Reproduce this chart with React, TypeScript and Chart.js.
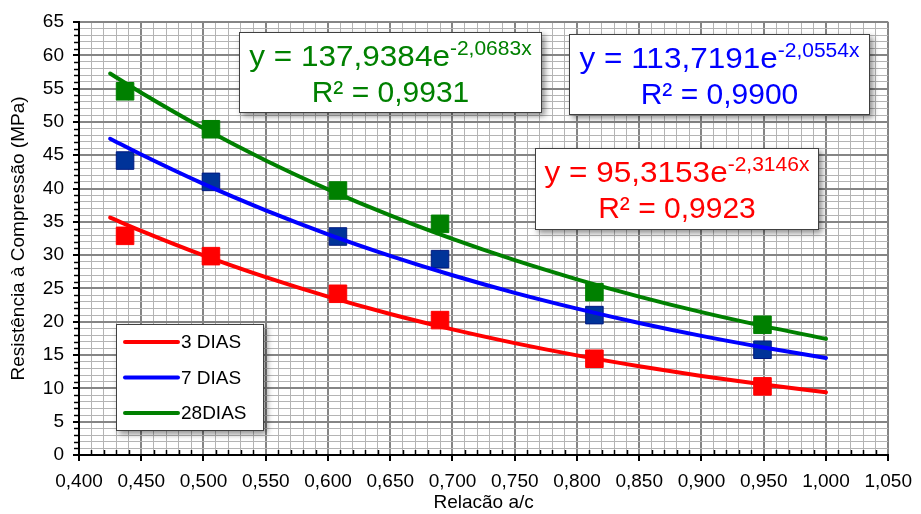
import React, { useEffect, useRef } from 'react';
import { Chart, registerables } from 'chart.js';

Chart.register(...registerables);

const FONT = '"Liberation Sans", Arial, sans-serif';

// ---- data ----
const seriesLabels = ['3 DIAS', '7 DIAS', '28DIAS'];

const ratioX = [0.437, 0.506, 0.608, 0.69, 0.814, 0.949];
const strength3 = [32.9, 29.85, 24.2, 20.25, 14.45, 10.3];
const strength7 = [44.2, 41.0, 32.8, 29.4, 21.0, 15.8];
const strength28 = [54.6, 48.9, 39.7, 34.7, 24.45, 19.55];

const trendX = [0.425, 0.45, 0.5, 0.55, 0.6, 0.65, 0.7, 0.75, 0.8, 0.85, 0.9, 0.95, 1.0];
const trend3 = [35.64, 33.64, 29.96, 26.69, 23.77, 21.17, 18.86, 16.8, 14.96, 13.33, 11.87, 10.58, 9.42];
const trend7 = [47.47, 45.1, 40.69, 36.72, 33.13, 29.9, 26.98, 24.34, 21.97, 19.82, 17.88, 16.14, 14.56];
const trend28 = [57.27, 54.39, 49.04, 44.22, 39.88, 35.96, 32.43, 29.24, 26.37, 23.78, 21.44, 19.34, 17.44];

const xTickLabels = ['0,400', '0,450', '0,500', '0,550', '0,600', '0,650', '0,700', '0,750', '0,800', '0,850', '0,900', '0,950', '1,000', '1,050'];
const yTickLabels = ['0', '5', '10', '15', '20', '25', '30', '35', '40', '45', '50', '55', '60', '65'];

const eqCoef = ['95,3153', '113,7191', '137,9384'];
const eqExp = ['-2,3146x', '-2,0554x', '-2,0683x'];
const eqR2 = ['R² = 0,9923', 'R² = 0,9900', 'R² = 0,9931'];

const xTitle = 'Relacão a/c';
const yTitle = 'Resistência à Compressão (MPa)';

// ---- styles ----
const lineColors = ['#FF0000', '#0000FF', '#008000'];
const markerFill = ['#FF0000', '#003399', '#008000'];
const markerBorder = ['#FF0000', '#001a80', '#008000'];
const eqBoxes = [
  { x: 535, y: 148, w: 284, h: 82 },
  { x: 569, y: 34, w: 301, h: 81 },
  { x: 239, y: 32, w: 303, h: 81 },
];
const legendBox = { x: 116, y: 324, w: 148, h: 107 };
const MAJOR_GRID = '#858585';
const MINOR_GRID = '#b4b4b4';

const isMajorX = (v: number) => Math.round(v * 100) % 5 === 0;
const isMajorY = (v: number) => Math.round(v) % 5 === 0;

function drawBox(ctx: CanvasRenderingContext2D, b: { x: number; y: number; w: number; h: number }) {
  ctx.save();
  ctx.shadowColor = 'rgba(0,0,0,0.45)';
  ctx.shadowBlur = 6;
  ctx.shadowOffsetX = 3;
  ctx.shadowOffsetY = 3;
  ctx.fillStyle = '#ffffff';
  ctx.fillRect(b.x, b.y, b.w, b.h);
  ctx.restore();
  ctx.save();
  ctx.strokeStyle = '#404040';
  ctx.lineWidth = 1;
  ctx.strokeRect(b.x + 0.5, b.y + 0.5, b.w - 1, b.h - 1);
  ctx.restore();
}

const overlayPlugin = {
  id: 'overlay',
  afterDatasetsDraw(chart: any) {
    const ctx: CanvasRenderingContext2D = chart.ctx;
    const xs = chart.scales.x;
    const ys = chart.scales.y;
    const area = chart.chartArea;
    // minor tick marks
    ctx.save();
    ctx.strokeStyle = '#000';
    ctx.lineWidth = 1.5;
    xs.ticks.forEach((t: any) => {
      if (isMajorX(t.value)) return;
      const px = Math.round(xs.getPixelForValue(t.value)) + 0.5;
      ctx.beginPath();
      ctx.moveTo(px, area.bottom - 5);
      ctx.lineTo(px, area.bottom);
      ctx.stroke();
    });
    ys.ticks.forEach((t: any) => {
      if (isMajorY(t.value)) return;
      const py = Math.round(ys.getPixelForValue(t.value)) + 0.5;
      ctx.beginPath();
      ctx.moveTo(area.left - 5, py);
      ctx.lineTo(area.left, py);
      ctx.stroke();
    });
    ctx.restore();

    // equation boxes
    eqBoxes.forEach((b, i) => {
      drawBox(ctx, b);
      const cx = b.x + b.w / 2;
      const color = lineColors[i];
      const main = `y = ${eqCoef[i]}e`;
      ctx.save();
      ctx.font = `30px ${FONT}`;
      const w1 = ctx.measureText(main).width;
      ctx.font = `20px ${FONT}`;
      const w2 = ctx.measureText(eqExp[i]).width;
      const total = w1 + w2;
      ctx.translate(cx, b.y + 34);
      ctx.scale(1.05, 1);
      ctx.fillStyle = color;
      ctx.textAlign = 'left';
      ctx.textBaseline = 'alphabetic';
      ctx.font = `30px ${FONT}`;
      ctx.fillText(main, -total / 2, 0);
      ctx.font = `20px ${FONT}`;
      ctx.fillText(eqExp[i], -total / 2 + w1, -11);
      ctx.restore();

      ctx.save();
      ctx.translate(cx, b.y + 70);
      ctx.fillStyle = color;
      ctx.textAlign = 'center';
      ctx.textBaseline = 'alphabetic';
      ctx.font = `30px ${FONT}`;
      ctx.fillText(eqR2[i], 0, 0);
      ctx.restore();
    });

    // legend
    drawBox(ctx, legendBox);
    const rows = [342, 377.5, 413];
    seriesLabels.forEach((lab, i) => {
      ctx.save();
      ctx.strokeStyle = lineColors[i];
      ctx.lineWidth = 4;
      ctx.lineCap = 'round';
      ctx.beginPath();
      ctx.moveTo(125, rows[i]);
      ctx.lineTo(178, rows[i]);
      ctx.stroke();
      ctx.fillStyle = '#000';
      ctx.font = `19px ${FONT}`;
      ctx.textAlign = 'left';
      ctx.textBaseline = 'middle';
      ctx.fillText(lab, 181, rows[i] + 1);
      ctx.restore();
    });
  },
};

export default function App() {
  const ref = useRef<HTMLCanvasElement | null>(null);
  useEffect(() => {
    if (!ref.current) return;
    const trends = [trend3, trend7, trend28];
    const points = [strength3, strength7, strength28];
    const lineSets = trends.map((arr, i) => ({
      label: seriesLabels[i],
      data: trendX.map((x, j) => ({ x, y: arr[j] })),
      showLine: true,
      borderColor: lineColors[i],
      backgroundColor: lineColors[i],
      borderWidth: 4,
      borderCapStyle: 'round',
      pointRadius: 0,
      cubicInterpolationMode: 'monotone',
      order: 1,
    }));
    const pointSets = points.map((arr, i) => ({
      label: seriesLabels[i] + ' pts',
      data: ratioX.map((x, j) => ({ x, y: arr[j] })),
      showLine: false,
      pointStyle: 'rect',
      pointRadius: 12.4,
      pointBorderWidth: 1,
      pointBackgroundColor: markerFill[i],
      pointBorderColor: markerBorder[i],
      order: 2,
    }));
    const chart = new Chart(ref.current, {
      type: 'scatter',
      data: { datasets: [...lineSets, ...pointSets] as any },
      options: {
        responsive: false,
        animation: false,
        layout: { padding: { left: 0, top: 22, right: 29, bottom: 0 } },
        plugins: { legend: { display: false }, tooltip: { enabled: false } },
        scales: {
          x: {
            type: 'linear',
            min: 0.4,
            max: 1.05,
            afterFit: (s: any) => { s.height = 59; },
            ticks: {
              stepSize: 0.01,
              autoSkip: false,
              maxRotation: 0,
              padding: 9,
              color: '#000',
              font: { family: FONT, size: 19 },
              callback: (v: any) => {
                const n = Number(v);
                return isMajorX(n) ? xTickLabels[Math.round((n - 0.4) * 20)] : '';
              },
            },
            grid: {
              color: (c: any) => (c.tick && isMajorX(c.tick.value) ? MAJOR_GRID : MINOR_GRID),
              lineWidth: (c: any) => (c.tick && isMajorX(c.tick.value) ? 2 : 1),
              tickColor: (c: any) => (c.tick && isMajorX(c.tick.value) ? '#000' : 'rgba(0,0,0,0)'),
              tickLength: 6,
              tickWidth: 2,
            },
            border: { color: '#000', width: 2 },
            title: { display: true, text: xTitle, color: '#000', font: { family: FONT, size: 19 }, padding: 0 },
          },
          y: {
            type: 'linear',
            min: 0,
            max: 65,
            afterFit: (s: any) => { s.width = 79; },
            ticks: {
              stepSize: 1,
              autoSkip: false,
              padding: 9,
              color: '#000',
              font: { family: FONT, size: 19 },
              callback: (v: any) => {
                const n = Number(v);
                return isMajorY(n) ? yTickLabels[Math.round(n / 5)] : '';
              },
            },
            grid: {
              color: (c: any) => (c.tick && isMajorY(c.tick.value) ? MAJOR_GRID : MINOR_GRID),
              lineWidth: (c: any) => (c.tick && isMajorY(c.tick.value) ? 2 : 1),
              tickColor: (c: any) => (c.tick && isMajorY(c.tick.value) ? '#000' : 'rgba(0,0,0,0)'),
              tickLength: 6,
              tickWidth: 2,
            },
            border: { color: '#000', width: 2 },
            title: { display: true, text: yTitle, color: '#000', font: { family: FONT, size: 19 }, padding: { top: 7, bottom: 0 } },
          },
        },
      } as any,
      plugins: [overlayPlugin],
    });
    return () => chart.destroy();
  }, []);
  return (
    <div style={{ position: 'fixed', left: 0, top: 0, width: 921, height: 514, background: '#fff' }}>
      <canvas ref={ref} width={921} height={514} />
    </div>
  );
}
